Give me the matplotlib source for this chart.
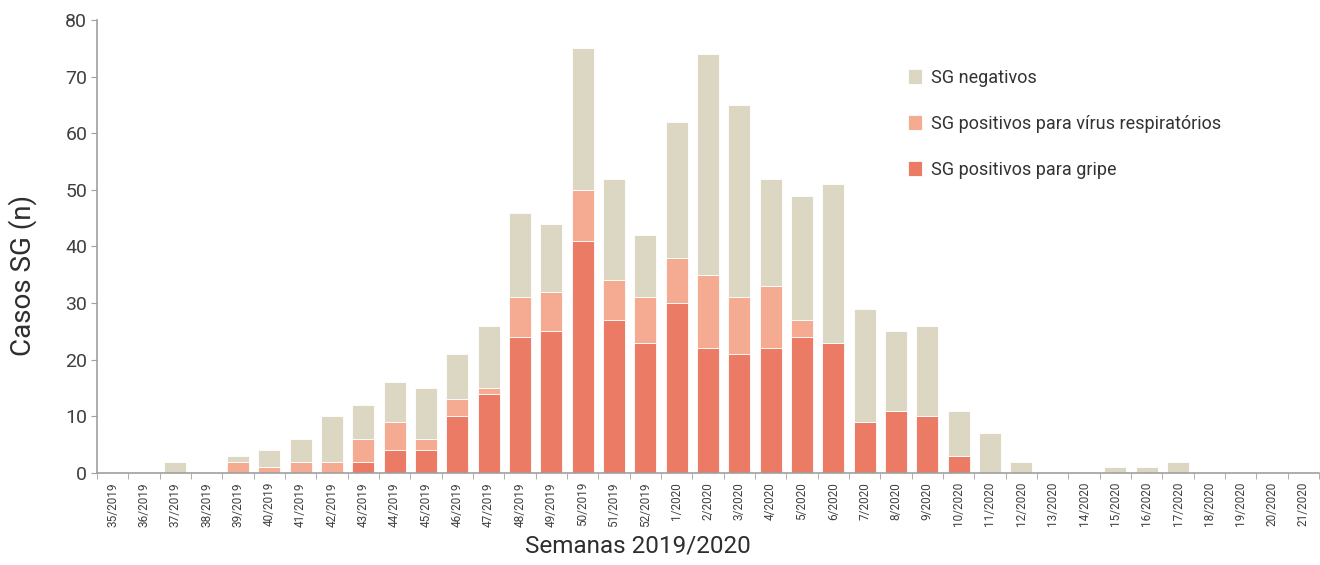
import matplotlib.pyplot as plt
import numpy as np

semanas = [f'{w}/2019' for w in range(35, 53)] + [f'{w}/2020' for w in range(1, 22)]

gripe = [0, 0, 0, 0, 0, 0, 0, 0, 2, 4, 4, 10, 14, 24, 25, 41, 27, 23,
         30, 22, 21, 22, 24, 23, 9, 11, 10, 3, 0, 0, 0, 0, 0, 0, 0, 0, 0, 0, 0]
resp = [0, 0, 0, 0, 2, 1, 2, 2, 4, 5, 2, 3, 1, 7, 7, 9, 7, 8,
        8, 13, 10, 11, 3, 0, 0, 0, 0, 0, 0, 0, 0, 0, 0, 0, 0, 0, 0, 0, 0]
negativos = [0, 0, 2, 0, 1, 3, 4, 8, 6, 7, 9, 8, 11, 15, 12, 25, 18, 11,
             24, 39, 34, 19, 22, 28, 20, 14, 16, 8, 7, 2, 0, 0, 1, 1, 2, 0, 0, 0, 0]

c_gripe = '#EC7B65'
c_resp = '#F5AB92'
c_neg = '#DCD7C2'
txt = '#2E2E2E'
grey = '#A0A0A0'

plt.rcParams['font.family'] = ['Roboto', 'DejaVu Sans']
plt.rcParams['font.weight'] = 'light'

fig = plt.figure(figsize=(13.2, 5.65), dpi=100)
ax = fig.add_axes([97/1320, 1-473/565, (1319-97)/1320, 453/565])

x = np.arange(len(semanas))
gripe = np.array(gripe)
resp = np.array(resp)
negativos = np.array(negativos)

kw = dict(width=0.7, edgecolor='white', linewidth=0.6)
b1 = ax.bar(x, gripe, color=c_gripe, label='SG positivos para gripe', **kw)
b2 = ax.bar(x, resp, bottom=gripe, color=c_resp, label='SG positivos para vírus respiratórios', **kw)
b3 = ax.bar(x, negativos, bottom=gripe + resp, color=c_neg, label='SG negativos', **kw)

ax.set_xlim(-0.5, len(semanas) - 0.5)
ax.set_ylim(0, 80)
ax.set_yticks(range(0, 81, 10))
ax.set_yticklabels([str(v) for v in range(0, 81, 10)], fontweight='normal')
ax.set_xticks(x)
ax.set_xticklabels(semanas, rotation=90, fontsize=8.5, color='#404040', fontweight='normal')
ax.set_xticks(np.arange(-0.5, len(semanas)), minor=True)
ax.tick_params(axis='x', which='major', length=0, pad=6.5)
ax.tick_params(axis='x', which='minor', length=4, color=grey, direction='out')
ax.tick_params(axis='y', length=4, color=grey, labelsize=14, labelcolor='#404040', pad=3)

for s in ['top', 'right']:
    ax.spines[s].set_visible(False)
for s in ['left', 'bottom']:
    ax.spines[s].set_color(grey)
    ax.spines[s].set_linewidth(1.2)

ax.set_ylabel('Casos SG (n)', fontsize=20, color=txt)
ax.yaxis.set_label_coords((37 - 97) / 1222, (473 - 275) / 453)
ax.set_xlabel('Semanas 2019/2020', fontsize=17.5, color=txt)
ax.xaxis.set_label_coords((638 - 97) / 1222, (473 - 534) / 453)

leg = ax.legend(handles=[b3, b2, b1], loc='upper left',
                bbox_to_anchor=(908/1320, 1-69/565), bbox_transform=fig.transFigure,
                frameon=False, labelspacing=1.55,
                handlelength=0.75, handleheight=0.9, handletextpad=0.5,
                borderaxespad=0, borderpad=0,
                prop={'size': 13, 'weight': 'normal'})
for t in leg.get_texts():
    t.set_color('#333333')

fig.savefig('out.png', dpi=100)
